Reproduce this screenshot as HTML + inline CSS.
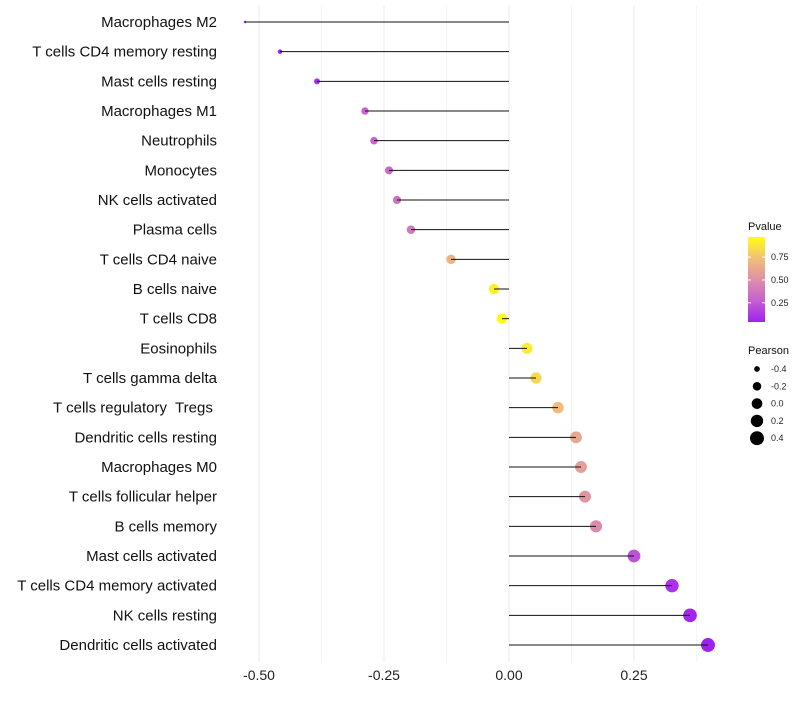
<!DOCTYPE html>
<html><head><style>body{margin:0;background:#fff}svg{font-family:"Liberation Sans",sans-serif}</style></head>
<body>
<svg id="c" width="800" height="700"></svg>
<script>
const categories=["Macrophages M2","T cells CD4 memory resting","Mast cells resting","Macrophages M1","Neutrophils","Monocytes","NK cells activated","Plasma cells","T cells CD4 naive","B cells naive","T cells CD8","Eosinophils","T cells gamma delta","T cells regulatory  Tregs ","Dendritic cells resting","Macrophages M0","T cells follicular helper","B cells memory","Mast cells activated","T cells CD4 memory activated","NK cells resting","Dendritic cells activated"];
const pearson=[-0.528,-0.458,-0.384,-0.288,-0.27,-0.24,-0.224,-0.196,-0.116,-0.03,-0.014,0.036,0.054,0.098,0.134,0.144,0.152,0.174,0.25,0.326,0.362,0.398];
const pvalues=[0.01,0.05,0.1,0.3,0.3,0.32,0.36,0.4,0.68,0.92,0.96,0.9,0.82,0.72,0.62,0.58,0.54,0.48,0.22,0.1,0.06,0.03];
const xTicks=[-0.5,-0.25,0,0.25];
const xTickLabels=["-0.50","-0.25","0.00","0.25"];
const pTicks=[0.25,0.5,0.75];
const sizeTicks=[-0.4,-0.2,0,0.2,0.4];
const NS="http://www.w3.org/2000/svg",svg=document.getElementById('c');
function el(t,a,p){const e=document.createElementNS(NS,t);for(const k in a)e.setAttribute(k,a[k]);(p||svg).appendChild(e);return e;}
const x=v=>509+v*500;
const y=i=>22+i*29.667;
const sMin=-0.53,sMax=0.4;
const r=v=>Math.sqrt(1.5+Math.max(0,(v-sMin))/(sMax-sMin)*47);
const stops=[[0,[160,32,240]],[0.25,[197,96,208]],[0.5,[222,144,168]],[0.75,[242,191,120]],[1,[255,255,16]]];
const pMin=0.04,pMax=0.97;
function col(p){let t=(p-pMin)/(pMax-pMin);t=Math.max(0,Math.min(1,t));for(let i=1;i<stops.length;i++){if(t<=stops[i][0]){const a=stops[i-1],b=stops[i],f=(t-a[0])/(b[0]-a[0]);return 'rgb('+a[1].map((c,k)=>Math.round(c+(b[1][k]-c)*f)).join(',')+')';}}return 'rgb(255,255,16)';}
for(const v of [-0.5,-0.375,-0.25,-0.125,0,0.125,0.25,0.375]){const g=el('line',{x1:x(v),x2:x(v),y1:5,y2:662,stroke:'#ebebeb','stroke-width':xTicks.includes(v)?1:0.5});

}
xTicks.forEach((v,i)=>{const t=el('text',{x:x(v),y:680,'text-anchor':'middle','font-size':14,fill:'#222'});t.textContent=xTickLabels[i];

});
categories.forEach((c,i)=>{
const t=el('text',{x:217,y:y(i)+5,'text-anchor':'end','font-size':15,fill:'#111'});t.setAttribute('xml:space','preserve');t.style.whiteSpace='pre';t.textContent=c;


const d=el('circle',{cx:x(pearson[i]),cy:y(i),r:r(pearson[i]),fill:col(pvalues[i])});


const l=el('line',{x1:x(0),x2:x(pearson[i]),y1:y(i),y2:y(i),stroke:'#111','stroke-width':1});


});
const defs=el('defs',{});const lg=el('linearGradient',{id:'g',x1:0,y1:1,x2:0,y2:0},defs);
stops.forEach(s=>el('stop',{offset:s[0],'stop-color':'rgb('+s[1].join(',')+')'},lg));
let tt=el('text',{x:748,y:230,'font-size':11,fill:'#111'});tt.textContent='Pvalue';


const bar=el('rect',{x:748,y:237,width:17,height:85,fill:'url(#g)'});


const py=p=>322-(p-pMin)/(pMax-pMin)*85;
pTicks.forEach(p=>{el('line',{x1:748,x2:751,y1:py(p),y2:py(p),stroke:'#fff'});el('line',{x1:762,x2:765,y1:py(p),y2:py(p),stroke:'#fff'});
const t=el('text',{x:771,y:py(p)+3,'font-size':9,fill:'#222'});t.textContent=p.toFixed(2);

});
tt=el('text',{x:748,y:354,'font-size':11,fill:'#111'});tt.textContent='Pearson';


sizeTicks.forEach((v,i)=>{const cy=369+i*17.3;
const c=el('circle',{cx:757,cy:cy,r:r(v),fill:'#000'});


const t=el('text',{x:771,y:cy+3,'font-size':9,fill:'#222'});t.textContent=v.toFixed(1);

});
</script>
</body></html>
